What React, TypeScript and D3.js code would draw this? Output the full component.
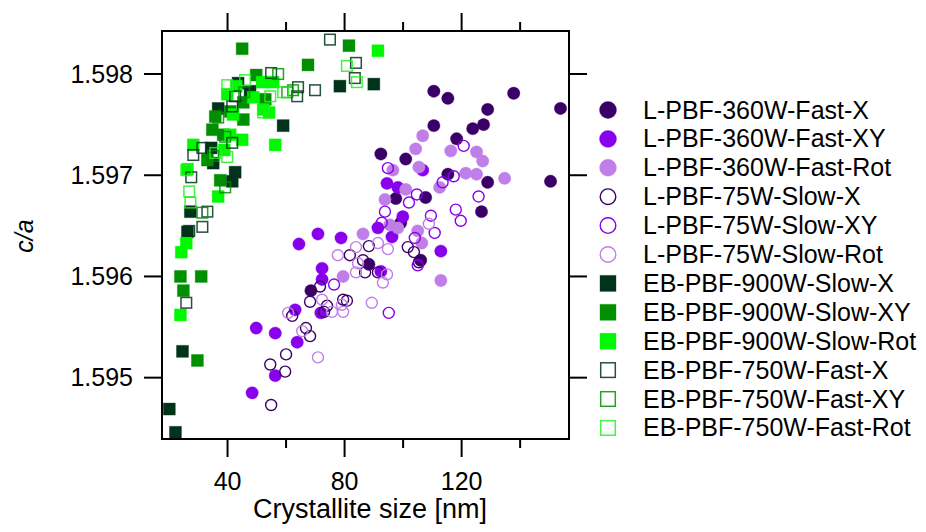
import * as d3 from 'd3'

// crystallite size [nm], c/a
const lpbf360FastX = [
  [110.5, 1.59783], [115.3, 1.59776], [137.8, 1.59781], [153.8, 1.59766], [128.9, 1.59765],
  [110.5, 1.59749], [123.8, 1.59746], [127.5, 1.5975], [118.3, 1.59736], [92.4, 1.59721],
  [100.9, 1.59716], [115.3, 1.59701], [128.9, 1.59693], [150.4, 1.59694], [97.5, 1.59677],
  [107.7, 1.59678], [126.8, 1.59664], [99.2, 1.59653], [106.0, 1.59616], [88.3, 1.59612],
  [68.5, 1.59586],
]
const lpbf360FastXY = [
  [91.4, 1.59648], [70.9, 1.59642], [78.8, 1.59638], [64.4, 1.59632], [96.2, 1.59639],
  [72.3, 1.59608], [72.3, 1.59597], [92.4, 1.59605], [63.1, 1.59567], [71.9, 1.59564],
  [49.8, 1.59549], [56.3, 1.59544], [63.8, 1.59535], [56.3, 1.59502], [48.4, 1.59485],
  [106.7, 1.59705], [94.5, 1.59692], [98.2, 1.59688], [112.9, 1.59625], [99.9, 1.59659],
]
const lpbf360FastRot = [
  [106.7, 1.59739], [104.3, 1.59726], [116.3, 1.59724], [125.1, 1.59723], [127.2, 1.59714],
  [105.4, 1.59708], [96.5, 1.59705], [121.4, 1.59702], [125.1, 1.59701], [134.7, 1.59697],
  [100.9, 1.59686], [112.5, 1.59688], [93.8, 1.59676], [95.5, 1.59651], [98.2, 1.59648],
  [105.0, 1.59645], [106.4, 1.59633], [86.3, 1.59642], [79.5, 1.596], [112.9, 1.59596],
]
const lpbf75SlowX = [
  [88.3, 1.5963], [81.8, 1.59621], [86.3, 1.59616], [87.0, 1.59604], [91.4, 1.59604],
  [101.6, 1.59629], [103.7, 1.59624], [105.4, 1.59614], [71.6, 1.5959], [68.2, 1.59575],
  [74.0, 1.59571], [73.0, 1.59565], [79.5, 1.59577], [80.8, 1.59576], [62.1, 1.59561],
  [66.8, 1.59549], [68.2, 1.59541], [60.0, 1.59523], [54.6, 1.59513], [59.7, 1.59506],
  [54.9, 1.59473],
]
const lpbf75SlowXY = [
  [94.8, 1.59707], [120.7, 1.59729], [117.3, 1.59699], [113.5, 1.59693], [104.7, 1.59681],
  [102.0, 1.59673], [93.8, 1.59664], [125.8, 1.59679], [118.0, 1.59666], [109.5, 1.5966],
  [119.7, 1.59655], [110.8, 1.59643], [92.7, 1.59653], [104.0, 1.59638], [76.4, 1.59592],
  [95.1, 1.59564], [105.0, 1.59611],
]
const lpbf75SlowRot = [
  [83.9, 1.59629], [77.7, 1.59621], [91.4, 1.59633], [94.8, 1.59627], [84.6, 1.59613],
  [83.9, 1.59604], [94.5, 1.59602], [93.1, 1.59594], [72.3, 1.59577], [79.1, 1.59572],
  [79.5, 1.59565], [75.7, 1.59565], [89.3, 1.59574], [60.7, 1.59564], [65.5, 1.59546],
  [70.9, 1.5952], [108.8, 1.59652],
]
const ebpbf900SlowX = [
  [43.6, 1.59791], [36.8, 1.59766], [59.0, 1.59749], [78.4, 1.59788], [90.0, 1.5979],
  [34.4, 1.59727], [42.6, 1.59703], [41.6, 1.59694], [27.3, 1.59664], [26.3, 1.59644],
  [24.6, 1.59526], [20.1, 1.59469], [22.2, 1.59446], [47.7, 1.59783], [35.1, 1.59712],
]
const ebpbf900SlowXY = [
  [45.0, 1.59825], [81.5, 1.59828], [67.5, 1.59809], [49.8, 1.59799], [45.4, 1.59772],
  [35.8, 1.59758], [45.4, 1.59755], [38.5, 1.5974], [33.1, 1.59715], [37.5, 1.59695],
  [23.9, 1.596], [31.0, 1.596], [24.9, 1.59586], [29.7, 1.59517], [40.9, 1.59763],
  [52.9, 1.59775], [34.8, 1.59745],
]
const ebpbf900SlowRot = [
  [91.4, 1.59823], [56.3, 1.5973], [28.3, 1.5973], [26.3, 1.59706], [25.9, 1.59633],
  [24.2, 1.59624], [36.8, 1.59679], [23.9, 1.59562], [51.8, 1.59792], [55.6, 1.59792],
  [39.9, 1.5978], [48.8, 1.59777], [52.2, 1.59765], [41.9, 1.5976], [45.0, 1.59735],
  [40.9, 1.5974], [54.2, 1.59762], [43.0, 1.59788], [38.9, 1.59725],
]
const ebpbf750FastX = [
  [75.0, 1.59834], [83.9, 1.59811], [83.5, 1.59796], [69.9, 1.59784], [64.1, 1.59787],
  [54.9, 1.59801], [42.6, 1.59778], [28.3, 1.5972], [27.6, 1.59698], [33.1, 1.59664],
  [31.4, 1.59649], [26.9, 1.59645], [25.9, 1.59574], [41.6, 1.59732], [31.4, 1.59727],
  [41.6, 1.59768], [63.8, 1.59778],
]
const ebpbf750FastXY = [
  [57.3, 1.598], [60.4, 1.59782], [35.1, 1.59719], [39.2, 1.59688], [31.4, 1.59663],
  [36.8, 1.59757], [39.2, 1.59738], [62.4, 1.59784], [45.7, 1.59782],
]
const ebpbf750FastRot = [
  [80.8, 1.59808], [84.2, 1.59792], [39.9, 1.59789], [52.2, 1.59762], [54.6, 1.59778],
  [25.9, 1.59705], [26.9, 1.59684], [27.3, 1.59673], [35.8, 1.59722], [39.9, 1.59718],
  [59.0, 1.59782], [46.0, 1.59794],
]

const xTicks = [40, 80, 120]
const xMinorTicks = [60, 100, 140]
const yTicks = [1.595, 1.596, 1.597, 1.598]

const series = [
  { name: 'L-PBF-360W-Fast-X', data: lpbf360FastX, shape: 'circle', filled: true, color: '#3b0068' },
  { name: 'L-PBF-360W-Fast-XY', data: lpbf360FastXY, shape: 'circle', filled: true, color: '#8800ec' },
  { name: 'L-PBF-360W-Fast-Rot', data: lpbf360FastRot, shape: 'circle', filled: true, color: '#c07ee8' },
  { name: 'L-PBF-75W-Slow-X', data: lpbf75SlowX, shape: 'circle', filled: false, color: '#3b0068' },
  { name: 'L-PBF-75W-Slow-XY', data: lpbf75SlowXY, shape: 'circle', filled: false, color: '#8800ec' },
  { name: 'L-PBF-75W-Slow-Rot', data: lpbf75SlowRot, shape: 'circle', filled: false, color: '#c07ee8' },
  { name: 'EB-PBF-900W-Slow-X', data: ebpbf900SlowX, shape: 'square', filled: true, color: '#00331a' },
  { name: 'EB-PBF-900W-Slow-XY', data: ebpbf900SlowXY, shape: 'square', filled: true, color: '#008f00' },
  { name: 'EB-PBF-900W-Slow-Rot', data: ebpbf900SlowRot, shape: 'square', filled: true, color: '#00f800' },
  { name: 'EB-PBF-750W-Fast-X', data: ebpbf750FastX, shape: 'square', filled: false, color: '#00331a' },
  { name: 'EB-PBF-750W-Fast-XY', data: ebpbf750FastXY, shape: 'square', filled: false, color: '#008f00' },
  { name: 'EB-PBF-750W-Fast-Rot', data: ebpbf750FastRot, shape: 'square', filled: false, color: '#22f022' },
]

const W = 926
const H = 532
const box = { left: 162, right: 569, top: 31, bottom: 439 }
const font = '"Liberation Sans", Arial, sans-serif'

const x = d3.scaleLinear().domain([17.6, 156.7]).range([box.left, box.right])
const y = d3.scaleLinear().domain([1.594394, 1.598425]).range([box.bottom, box.top])

const Marker = ({ cx, cy, s, big }) => {
  if (s.shape === 'circle') {
    const r = big ? 8.5 : 6.2
    return s.filled ? (
      <circle cx={cx} cy={cy} r={r} fill={s.color} stroke={s.color} strokeOpacity={0.35} strokeWidth={1} />
    ) : (
      <circle cx={cx} cy={cy} r={r - 0.7} fill="none" stroke={s.color} strokeWidth={1.4} />
    )
  }
  const half = big ? 8 : 6
  return s.filled ? (
    <rect x={cx - half} y={cy - half} width={half * 2} height={half * 2} fill={s.color} stroke={s.color} strokeOpacity={0.35} strokeWidth={1} />
  ) : (
    <rect x={cx - half + 0.7} y={cy - half + 0.7} width={half * 2 - 1.4} height={half * 2 - 1.4} fill="none" stroke={s.color} strokeOpacity={0.85} strokeWidth={1.5} />
  )
}

export default function App() {
  const tickLen = 18
  const minorLen = 9
  return (
    <svg width={W} height={H} style={{ position: 'absolute', left: 0, top: 0, background: 'white' }} fontFamily={font}>
      {/* points */}
      {series.map((s) => (
        <g key={s.name}>
          {s.data.map((d, i) => (
            <Marker key={i} cx={x(d[0])} cy={y(d[1])} s={s} big={false} />
          ))}
        </g>
      ))}

      {/* frame */}
      <rect x={box.left} y={box.top} width={box.right - box.left} height={box.bottom - box.top} fill="none" stroke="black" strokeWidth={2} />

      {/* x ticks bottom and top */}
      {xTicks.map((t) => (
        <g key={'x' + t}>
          <line x1={x(t)} x2={x(t)} y1={box.bottom} y2={box.bottom + tickLen} stroke="black" strokeWidth={2} />
          <line x1={x(t)} x2={x(t)} y1={box.top} y2={box.top - tickLen} stroke="black" strokeWidth={2} />
          <text x={x(t)} y={490} textAnchor="middle" fontSize={25}>{t}</text>
        </g>
      ))}
      {xMinorTicks.map((t) => (
        <g key={'xm' + t}>
          <line x1={x(t)} x2={x(t)} y1={box.bottom} y2={box.bottom + minorLen} stroke="black" strokeWidth={2} />
          <line x1={x(t)} x2={x(t)} y1={box.top} y2={box.top - minorLen} stroke="black" strokeWidth={2} />
        </g>
      ))}

      {/* y ticks left and right */}
      {yTicks.map((t) => (
        <g key={'y' + t}>
          <line x1={box.left} x2={box.left - tickLen} y1={y(t)} y2={y(t)} stroke="black" strokeWidth={2} />
          <line x1={box.right} x2={box.right + tickLen} y1={y(t)} y2={y(t)} stroke="black" strokeWidth={2} />
          <text x={133} y={y(t) + 8.7} textAnchor="end" fontSize={25}>{d3.format('.3f')(t)}</text>
        </g>
      ))}

      {/* axis titles */}
      <text x={370} y={518} textAnchor="middle" fontSize={27}>Crystallite size [nm]</text>
      <text transform="translate(33,236) rotate(-90)" textAnchor="middle" fontSize={25} fontStyle="italic">c/a</text>

      {/* legend */}
      {series.map((s, i) => {
        const ly = 110 + i * 28.9
        return (
          <g key={'leg' + s.name}>
            <Marker cx={608} cy={ly} s={s} big={true} />
            <text x={643} y={ly + 8.5} fontSize={25}>{s.name}</text>
          </g>
        )
      })}
    </svg>
  )
}
